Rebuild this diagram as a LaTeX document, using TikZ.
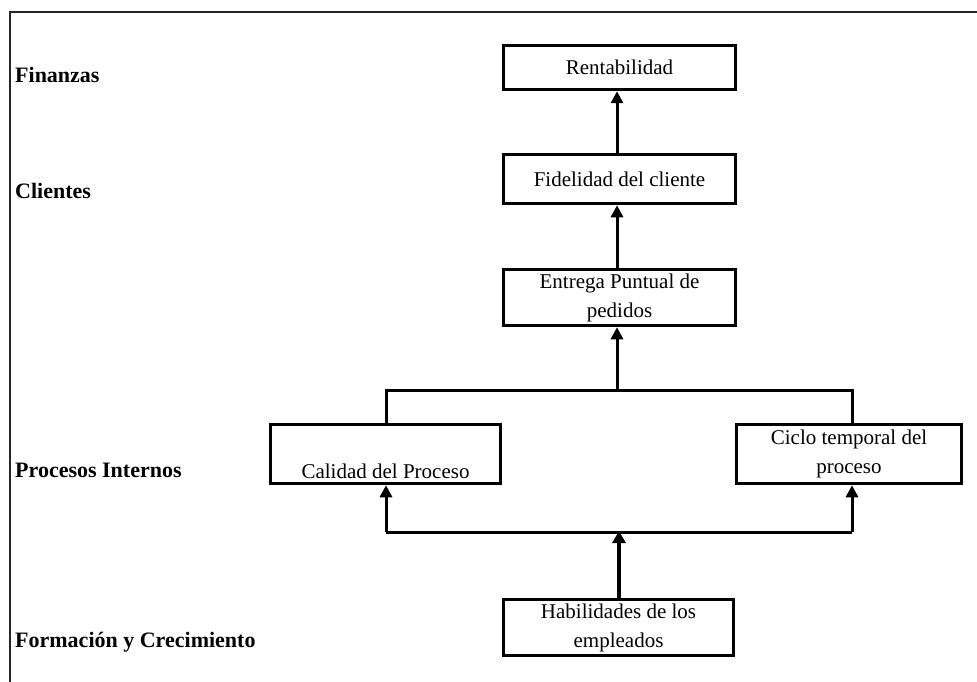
\documentclass[tikz,border=0pt]{standalone}
\usepackage{fontspec}
\setmainfont{Liberation Serif}
\usetikzlibrary{arrows.meta}
\begin{document}
\begin{tikzpicture}[x=1pt,y=-1pt,
  font=\fontsize{21}{29}\selectfont,
  box/.style={draw, line width=3.5pt, align=center, inner sep=0pt},
  lvl/.style={anchor=base west, font=\fontsize{22}{29}\selectfont\bfseries, inner sep=0pt},
  conn/.style={line width=3pt},
  arr/.style={line width=3pt, -{Triangle[width=12pt,length=12pt]}},
  frame/.style={line width=2pt, draw=black!85}
]
\useasboundingbox (0,0) rectangle (977,682);
\fill[white] (0,0) rectangle (977,682);
% outer frame (only top and left visible)
\coordinate (ftr) at (990,12);
\coordinate (ftl) at (10,12);
\coordinate (fbl) at (10,700);
\draw[frame] (ftr) -- (ftl) -- (fbl);

% level labels
\node[lvl] (lfin) at (15,83) {Finanzas};
\node[lvl] (lcli) at (15,198) {Clientes};
\node[lvl] (lpro) at (15,477) {Procesos Internos};
\node[lvl] (lfor) at (15,647) {Formaci\'on y Crecimiento};

% boxes
\node[box, minimum width=232pt, minimum height=44pt] (rent) at (619.5,67.5) {Rentabilidad};
\node[box, minimum width=232pt, minimum height=49pt] (fid) at (619.5,179) {Fidelidad del cliente};
\node[box, minimum width=232pt, minimum height=56pt] (ent) at (619.5,297.5) {Entrega Puntual de\\pedidos};
\node[box, minimum width=230pt, minimum height=59pt] (cal) at (385.5,454) {\strut\\Calidad del Proceso};
\node[box, minimum width=225pt, minimum height=59pt] (cic) at (849,454) {Ciclo temporal del\\proceso};
\node[box, minimum width=230pt, minimum height=56pt] (hab) at (618.5,627.5) {Habilidades de los\\empleados};

% connectors
\draw[arr] (fid.north -| 617,0) -- (rent.south -| 617,0);
\draw[arr] (ent.north -| 617,0) -- (fid.south -| 617,0);

% upper branch
\coordinate (ubl) at (386,390);
\coordinate (ubm) at (617,390);
\coordinate (ubr) at (852,390);
\draw[conn] (cal.north -| ubl) -- (ubl) -- (ubr) -- (cic.north -| ubr);
\draw[arr] (ubm) -- (ent.south -| ubm);

% lower branch
\coordinate (lbl) at (386,532);
\coordinate (lbm) at (619,532);
\coordinate (lbr) at (852,532);
\draw[conn] (lbl) -- (lbr);
\draw[arr] (lbl) -- (cal.south -| lbl);
\draw[arr] (lbr) -- (cic.south -| lbr);
\draw[line width=4.5pt, -{Triangle[width=13pt,length=12pt]}] (hab.north -| lbm) -- ([yshift=1pt]lbm);
\end{tikzpicture}
\end{document}
